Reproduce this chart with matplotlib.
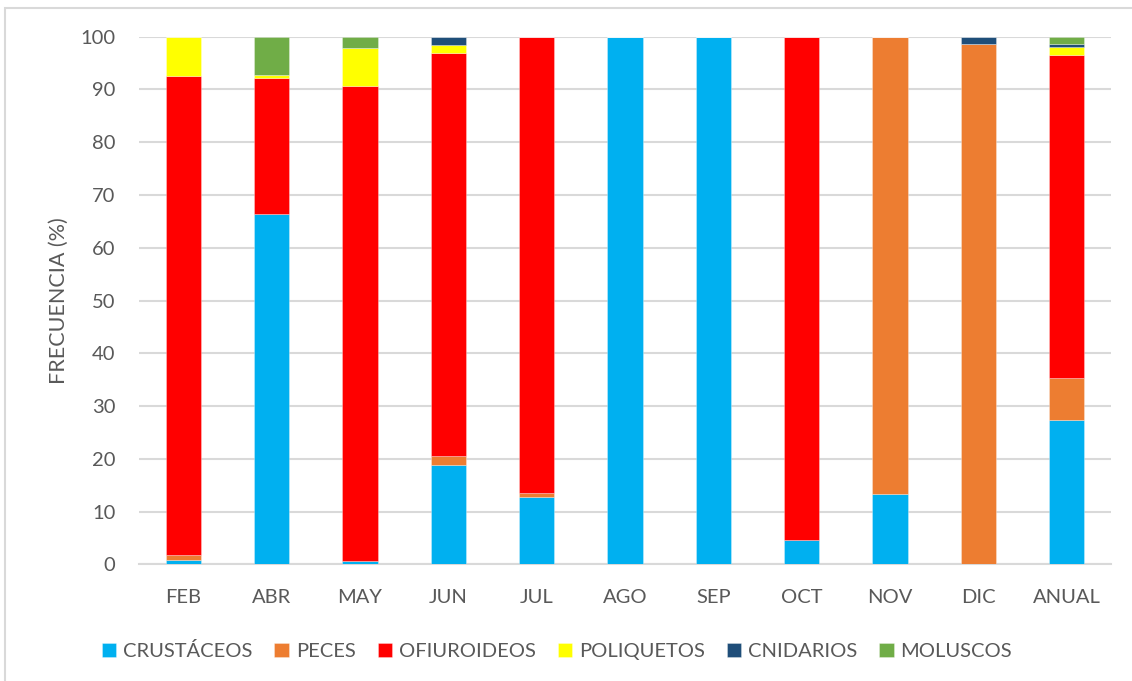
import matplotlib
matplotlib.use("Agg")
import matplotlib.pyplot as plt
from matplotlib.patches import Rectangle
import numpy as np

# -----------------------------
# Data (% frequency per month)
# -----------------------------
months = ["FEB", "ABR", "MAY", "JUN", "JUL", "AGO", "SEP", "OCT", "NOV", "DIC", "ANUAL"]

crustaceos  = [0.9, 66.4, 0.7, 18.9, 12.8, 100.0, 100.0, 4.7, 13.4, 0.0, 27.3]
peces       = [0.9, 0.0, 0.0, 1.6, 0.7, 0.0, 0.0, 0.0, 86.6, 98.6, 8.0]
ofiuroideos = [90.8, 25.8, 90.0, 76.5, 86.5, 0.0, 0.0, 95.3, 0.0, 0.0, 61.3]
poliquetos  = [7.4, 0.5, 7.2, 1.4, 0.0, 0.0, 0.0, 0.0, 0.0, 0.0, 1.4]
cnidarios   = [0.0, 0.0, 0.0, 1.6, 0.0, 0.0, 0.0, 0.0, 0.0, 1.4, 0.7]
moluscos    = [0.0, 7.3, 2.1, 0.0, 0.0, 0.0, 0.0, 0.0, 0.0, 0.0, 1.3]

series = [
    ("CRUSTÁCEOS", crustaceos, "#00B0F0"),
    ("PECES", peces, "#ED7D31"),
    ("OFIUROIDEOS", ofiuroideos, "#FF0000"),
    ("POLIQUETOS", poliquetos, "#FFFF00"),
    ("CNIDARIOS", cnidarios, "#1F4E79"),
    ("MOLUSCOS", moluscos, "#70AD47"),
]

# -----------------------------
# Figure layout
# -----------------------------
plt.rcParams["font.family"] = ["Lato", "DejaVu Sans"]
text_color = "#595959"
grid_color = "#D9D9D9"
fs = 14.5

W, H = 1132, 681
fig = plt.figure(figsize=(W / 100, H / 100), dpi=100)
ax = fig.add_axes([139 / W, 1 - 564.3 / H, (1111 - 139) / W, (564.3 - 36.7) / H])

# chart frame
fig.patches.append(Rectangle((5 / W, -0.1), 1.2, 1 - 8 / H + 0.1,
                             transform=fig.transFigure, fill=False,
                             edgecolor=grid_color, linewidth=1.5))

x = np.arange(len(months))
bottom = np.zeros(len(months))
for name, vals, color in series:
    vals = np.array(vals)
    ax.bar(x, vals, width=0.4, bottom=bottom, color=color, label=name,
           edgecolor=(1, 1, 1, 0.35), linewidth=0.6, zorder=3)
    bottom += vals

ax.set_xlim(-0.5, len(months) - 0.5)
ax.set_ylim(0, 100)
ax.set_yticks(range(0, 101, 10))
ax.set_xticks(x)
ax.set_xticklabels(months)

ax.yaxis.grid(True, color=grid_color, linewidth=1.5, zorder=0)
ax.set_axisbelow(True)
for side in ("top", "right", "left"):
    ax.spines[side].set_visible(False)
ax.spines["bottom"].set_color(grid_color)
ax.spines["bottom"].set_linewidth(1.5)

ax.tick_params(axis="both", length=0, labelsize=fs, labelcolor=text_color)
ax.tick_params(axis="y", pad=17)
ax.tick_params(axis="x", pad=18)

ax.set_ylabel("FRECUENCIA (%)", fontsize=15.5, color=text_color, labelpad=8)

fig.legend(loc="center", bbox_to_anchor=(557 / W, 1 - 651 / H), ncol=6,
           frameon=False, fontsize=fs, labelcolor=text_color,
           handlelength=0.7, handleheight=0.7, handletextpad=0.35,
           columnspacing=1.1)

fig.savefig("out.png", dpi=100, facecolor="white")
